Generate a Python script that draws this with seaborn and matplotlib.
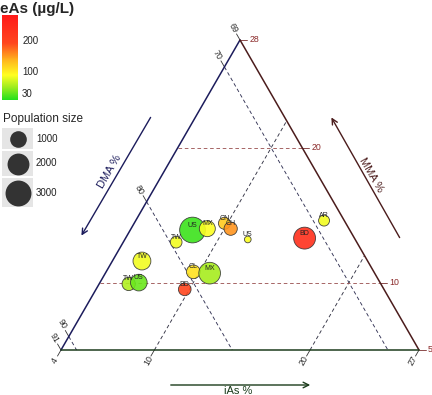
import numpy as np
import pandas as pd
import matplotlib
matplotlib.use("Agg")
import matplotlib.pyplot as plt
from matplotlib.colors import LinearSegmentedColormap, Normalize
from matplotlib.cm import ScalarMappable
from matplotlib.patches import Rectangle
import seaborn as sns

# study populations (arsenic metabolite %)
country = ["US", "MX", "TW", "CN", "CH", "US", "AR", "BD", "TW", "TW", "US", "CL", "MX", "BD"]
ias = [8.0, 8.9, 7.4, 9.8, 10.4, 11.9, 16.1, 15.5, 5.9, 5.9, 6.5, 9.6, 10.7, 9.7]
dma = [78.1, 77.1, 79.6, 75.8, 75.6, 74.9, 69.3, 71.2, 82.5, 84.2, 83.5, 79.6, 78.6, 80.8]
mma = [13.9, 14.0, 13.0, 14.4, 14.0, 13.2, 14.6, 13.3, 11.6, 9.9, 10.0, 10.8, 10.7, 9.5]
eas = [15, 85, 80, 120, 150, 85, 80, 235, 80, 55, 30, 105, 50, 190]
pop = [2950, 900, 370, 400, 540, 45, 300, 2000, 1200, 540, 1000, 590, 1950, 470]

# zoomed ternary limits
ias_min, dma_min, mma_min, span = 4, 68, 5, 23
ias_ticks = [4, 10, 20, 27]
ias_labels = ["4", "10", "20", "27"]
dma_ticks = [68, 70, 80, 90, 91]
dma_labels = ["69", "70", "80", "90", "91"]
mma_ticks = [5, 10, 20, 28]
mma_labels = ["5", "10", "20", "28"]

eas_ticks = [30, 100, 200]
eas_range = (6, 280)
pop_keys = [1000, 2000, 3000]

DPI = 100
SQ3 = np.sqrt(3) / 2


def tern(i, d, m):
    a = (np.asarray(i, float) - ias_min) / span
    b = (np.asarray(d, float) - dma_min) / span
    c = (np.asarray(m, float) - mma_min) / span
    s = a + b + c
    a, c = a / s, c / s
    return a + c / 2, c * SQ3


def pix(x, y):
    # picture pixel (from top-left) -> ternary cartesian
    return (x - 61) / 358, (350 - y) / 358


def marker_area(p):
    d_px = 4 + 0.4 * np.sqrt(p)
    return (d_px * 72 / DPI) ** 2


sns.set_style("white")
plt.rcParams["font.family"] = ["Liberation Sans", "DejaVu Sans"]

cmap = LinearSegmentedColormap.from_list(
    "eas",
    [(0.0, "#22e01c"), (0.15, "#9fec1e"), (0.29, "#ffff22"),
     (0.47, "#ffb41e"), (0.67, "#ff461e"), (1.0, "#ff1a1a")])

fig = plt.figure(figsize=(432 / DPI, 395 / DPI), dpi=DPI)
ax = fig.add_axes([0, 0, 1, 1])
ax.set_xlim(-61 / 358, 371 / 358)
ax.set_ylim(-45 / 358, 350 / 358)
ax.axis("off")

L = 7 / 358
dash = (0, (4, 3))

# DMA grid (parallel to right edge) and ticks on left edge
for v, lab in zip(dma_ticks, dma_labels):
    p0 = tern(ias_min, v, 100 - ias_min - v)
    p1 = tern(100 - mma_min - v, v, mma_min)
    if dma_min < v < 91:
        ax.plot([p0[0], p1[0]], [p0[1], p1[1]], color="#333355", lw=0.65, ls=dash, zorder=1)
    ux, uy = -0.5, SQ3
    ax.plot([p0[0], p0[0] + ux * L], [p0[1], p0[1] + uy * L], color="#333333", lw=0.6)
    ax.text(p0[0] + ux * 2 * L, p0[1] + uy * 2 * L, lab, rotation=-60, fontsize=6.3,
            color="#2a2a2a", ha="center", va="center")

# iAs grid (parallel to left edge) and ticks on bottom edge
for v, lab in zip(ias_ticks, ias_labels):
    p0 = tern(v, 100 - mma_min - v, mma_min)
    p1 = tern(v, dma_min, 100 - dma_min - v)
    if ias_min < v < 27:
        ax.plot([p0[0], p1[0]], [p0[1], p1[1]], color="#333344", lw=0.65, ls=dash, zorder=1)
    ux, uy = -0.5, -SQ3
    ax.plot([p0[0], p0[0] + ux * L], [p0[1], p0[1] + uy * L], color="#333333", lw=0.6)
    ax.text(p0[0] + ux * 1.8 * L, p0[1] + uy * 1.8 * L, lab, rotation=60, fontsize=6.3,
            color="#2a2a2a", ha="center", va="center")

# MMA grid (horizontal) and ticks on right edge
for v, lab in zip(mma_ticks, mma_labels):
    p0 = tern(ias_min, 100 - ias_min - v, v)
    p1 = tern(100 - dma_min - v, dma_min, v)
    if mma_min < v < 28:
        ax.plot([p0[0], p1[0]], [p0[1], p1[1]], color="#a05a5a", lw=0.65, ls=dash, zorder=1)
    ax.plot([p1[0], p1[0] + L], [p1[1], p1[1]], color="#7a3030", lw=0.6)
    ax.text(p1[0] + 1.3 * L, p1[1], lab, fontsize=6.3, color="#8b2a2a",
            ha="left", va="center")

# triangle edges
bl = tern(ias_min, 100 - ias_min - mma_min, mma_min)
br = tern(100 - dma_min - mma_min, dma_min, mma_min)
top = tern(ias_min, dma_min, 100 - ias_min - dma_min)
ax.plot([bl[0], top[0]], [bl[1], top[1]], color="#1c1c5c", lw=1.1, zorder=2)
ax.plot([top[0], br[0]], [top[1], br[1]], color="#4b1c1c", lw=1.1, zorder=2)
ax.plot([bl[0], br[0]], [bl[1], br[1]], color="#1c3c1c", lw=1.1, zorder=2)

# axis arrows and titles
ax.annotate("", xy=pix(80, 238), xytext=pix(152, 115),
            arrowprops=dict(arrowstyle="->", color="#1c1c5c", lw=1))
ax.text(*pix(110, 172), "DMA %", rotation=60, fontsize=8, color="#1c1c5c",
        ha="center", va="center")
ax.annotate("", xy=pix(330, 115), xytext=pix(401, 240),
            arrowprops=dict(arrowstyle="->", color="#4b1c1c", lw=1))
ax.text(*pix(371, 175), "MMA %", rotation=-60, fontsize=8, color="#4b1c1c",
        ha="center", va="center")
ax.annotate("", xy=pix(313, 385), xytext=pix(168, 385),
            arrowprops=dict(arrowstyle="->", color="#1c3c1c", lw=1))
ax.text(*pix(238, 391), "iAs %", fontsize=8, color="#1c3c1c", ha="center", va="center")

# points
x, y = tern(ias, dma, mma)
df = pd.DataFrame({"country": country, "x": x, "y": y, "eAs": eas, "pop": pop})
sizes = {p: marker_area(p) for p in df["pop"].unique()}
sns.scatterplot(data=df, x="x", y="y", hue="eAs", palette=cmap, hue_norm=eas_range,
                size="pop", sizes=sizes, edgecolor="#333333", linewidth=0.6,
                alpha=0.9, legend=False, ax=ax, zorder=3)
for _, r in df.iterrows():
    ax.text(r["x"], r["y"] + 5 / 358, r["country"], fontsize=5, color="#222222",
            ha="center", va="center", zorder=4)

# colour legend
fig.text(0, 1 - 8.5 / 395, "eAs (µg/L)", fontsize=11, fontweight="bold",
         ha="left", va="center")
cax = fig.add_axes([2 / 432, 1 - 100 / 395, 16 / 432, 85 / 395])
cb = fig.colorbar(ScalarMappable(norm=Normalize(*eas_range), cmap=cmap), cax=cax,
                  ticks=eas_ticks)
cb.outline.set_visible(False)
cax.tick_params(length=3, width=0.6, color="white", direction="in", labelsize=7,
                labelcolor="#222222", pad=3)

# size legend
lax = fig.add_axes([0, 0, 1, 1])
lax.set_xlim(0, 432)
lax.set_ylim(395, 0)
lax.axis("off")
lax.text(3, 119, "Population size", fontsize=8.5, ha="left", va="center")
boxes = [(128, 149), (151, 176), (178, 207)]
for (y0, y1), p in zip(boxes, pop_keys):
    lax.add_patch(Rectangle((2, y0), 31, y1 - y0, color="#e5e5e5", lw=0))
    yc = (y0 + y1) / 2
    lax.scatter([17.5], [yc], s=marker_area(p), color="#333333", lw=0)
    lax.text(36, yc, str(p), fontsize=7, ha="left", va="center", color="#222222")

fig.savefig("out.png", dpi=DPI)
